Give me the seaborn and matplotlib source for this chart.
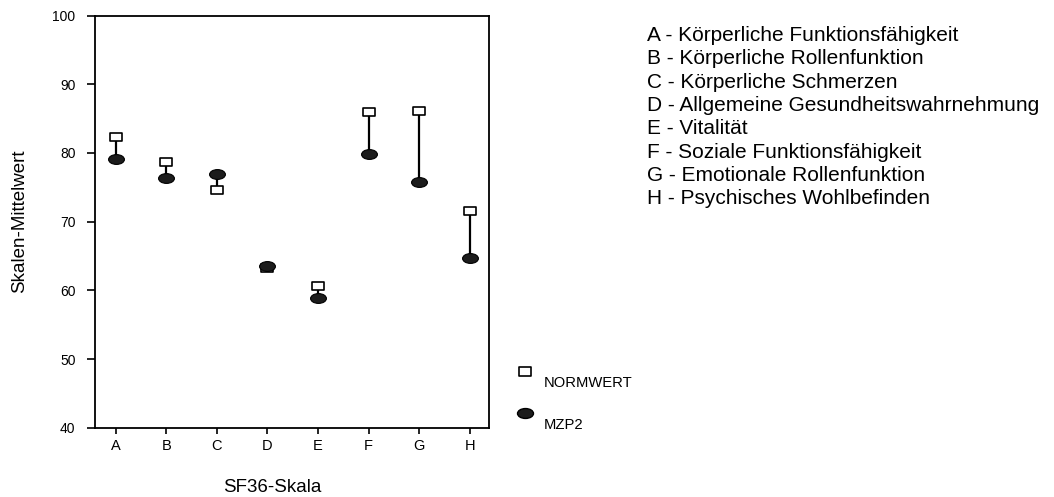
import numpy as np
import matplotlib
matplotlib.use('Agg')
import matplotlib.pyplot as plt
from matplotlib.path import Path
from matplotlib.lines import Line2D
import seaborn as sns

skalen = ['A', 'B', 'C', 'D', 'E', 'F', 'G', 'H']
normwert = [82.3, 78.7, 74.6, 63.3, 60.7, 85.9, 86.1, 71.6]
mzp2 = [79.1, 76.3, 76.9, 63.6, 58.9, 79.9, 75.7, 64.7]
beschreibung = ['A - Körperliche Funktionsfähigkeit',
                'B - Körperliche Rollenfunktion',
                'C - Körperliche Schmerzen',
                'D - Allgemeine Gesundheitswahrnehmung',
                'E - Vitalität',
                'F - Soziale Funktionsfähigkeit',
                'G - Emotionale Rollenfunktion',
                'H - Psychisches Wohlbefinden']

sns.set_style('ticks')
plt.rcParams['font.family'] = ['Liberation Sans', 'DejaVu Sans']
plt.rcParams['text.color'] = 'black'
plt.rcParams['axes.labelcolor'] = 'black'
plt.rcParams['xtick.color'] = 'black'
plt.rcParams['ytick.color'] = 'black'

# marker shapes: flat rectangle and flat ellipse
rect = Path([(-1, -0.72), (1, -0.72), (1, 0.72), (-1, 0.72), (-1, -0.72)],
            [Path.MOVETO, Path.LINETO, Path.LINETO, Path.LINETO, Path.CLOSEPOLY])
circ = Path.unit_circle()
ellipse = Path(circ.vertices * np.array([1.0, 0.62]), circ.codes)

fig = plt.figure(figsize=(10.54, 4.97), dpi=100)
ax = fig.add_axes([0.0901, 0.1394, 0.3738, 0.8294])

xs = np.arange(len(skalen))
ax.vlines(xs, mzp2, normwert, color='black', linewidth=1.6, zorder=2)
sns.scatterplot(x=xs, y=normwert, marker=rect, s=80, color='white',
                edgecolor='black', linewidth=1.2, ax=ax, zorder=3)
sns.scatterplot(x=xs, y=mzp2, marker=ellipse, s=130, color='#1c1c1c',
                edgecolor='black', linewidth=0.8, ax=ax, zorder=4)

ax.set_xlim(-0.41, 7.38)
ax.set_ylim(40, 100)
ax.set_xticks(xs)
ax.set_xticklabels(skalen)
ax.set_yticks(np.arange(40, 101, 10))
for s in ax.spines.values():
    s.set_visible(True)
    s.set_linewidth(1.3)
    s.set_color('black')
ax.tick_params(axis='x', labelsize=10.5, length=4, width=1.2, pad=4)
ax.tick_params(axis='y', labelsize=10, length=6, width=1.2, pad=8)
ax.set_xlabel('SF36-Skala', fontsize=13.5)
ax.set_ylabel('Skalen-Mittelwert', fontsize=13.5)
ax.xaxis.set_label_coords(0.449, -0.125)
ax.yaxis.set_label_coords(-0.17, 0.5)

fig.text(0.614, 0.948, '\n'.join(beschreibung), fontsize=15, va='top',
         ha='left', linespacing=1.29)

handles = [Line2D([], [], linestyle='none', marker=rect, markersize=9,
                  markerfacecolor='white', markeredgecolor='black', markeredgewidth=1.2),
           Line2D([], [], linestyle='none', marker=ellipse, markersize=11.5,
                  markerfacecolor='#1c1c1c', markeredgecolor='black')]
leg = fig.legend(handles, ['NORMWERT', 'MZP2'], loc='upper left',
                 bbox_to_anchor=(0.483, 0.281), frameon=False, fontsize=10.6,
                 labelspacing=1.9, handlelength=1.2, handletextpad=0.65, borderpad=0)
for t in leg.get_texts():
    t.set_verticalalignment('top')

fig.savefig('out.png', dpi=100)
